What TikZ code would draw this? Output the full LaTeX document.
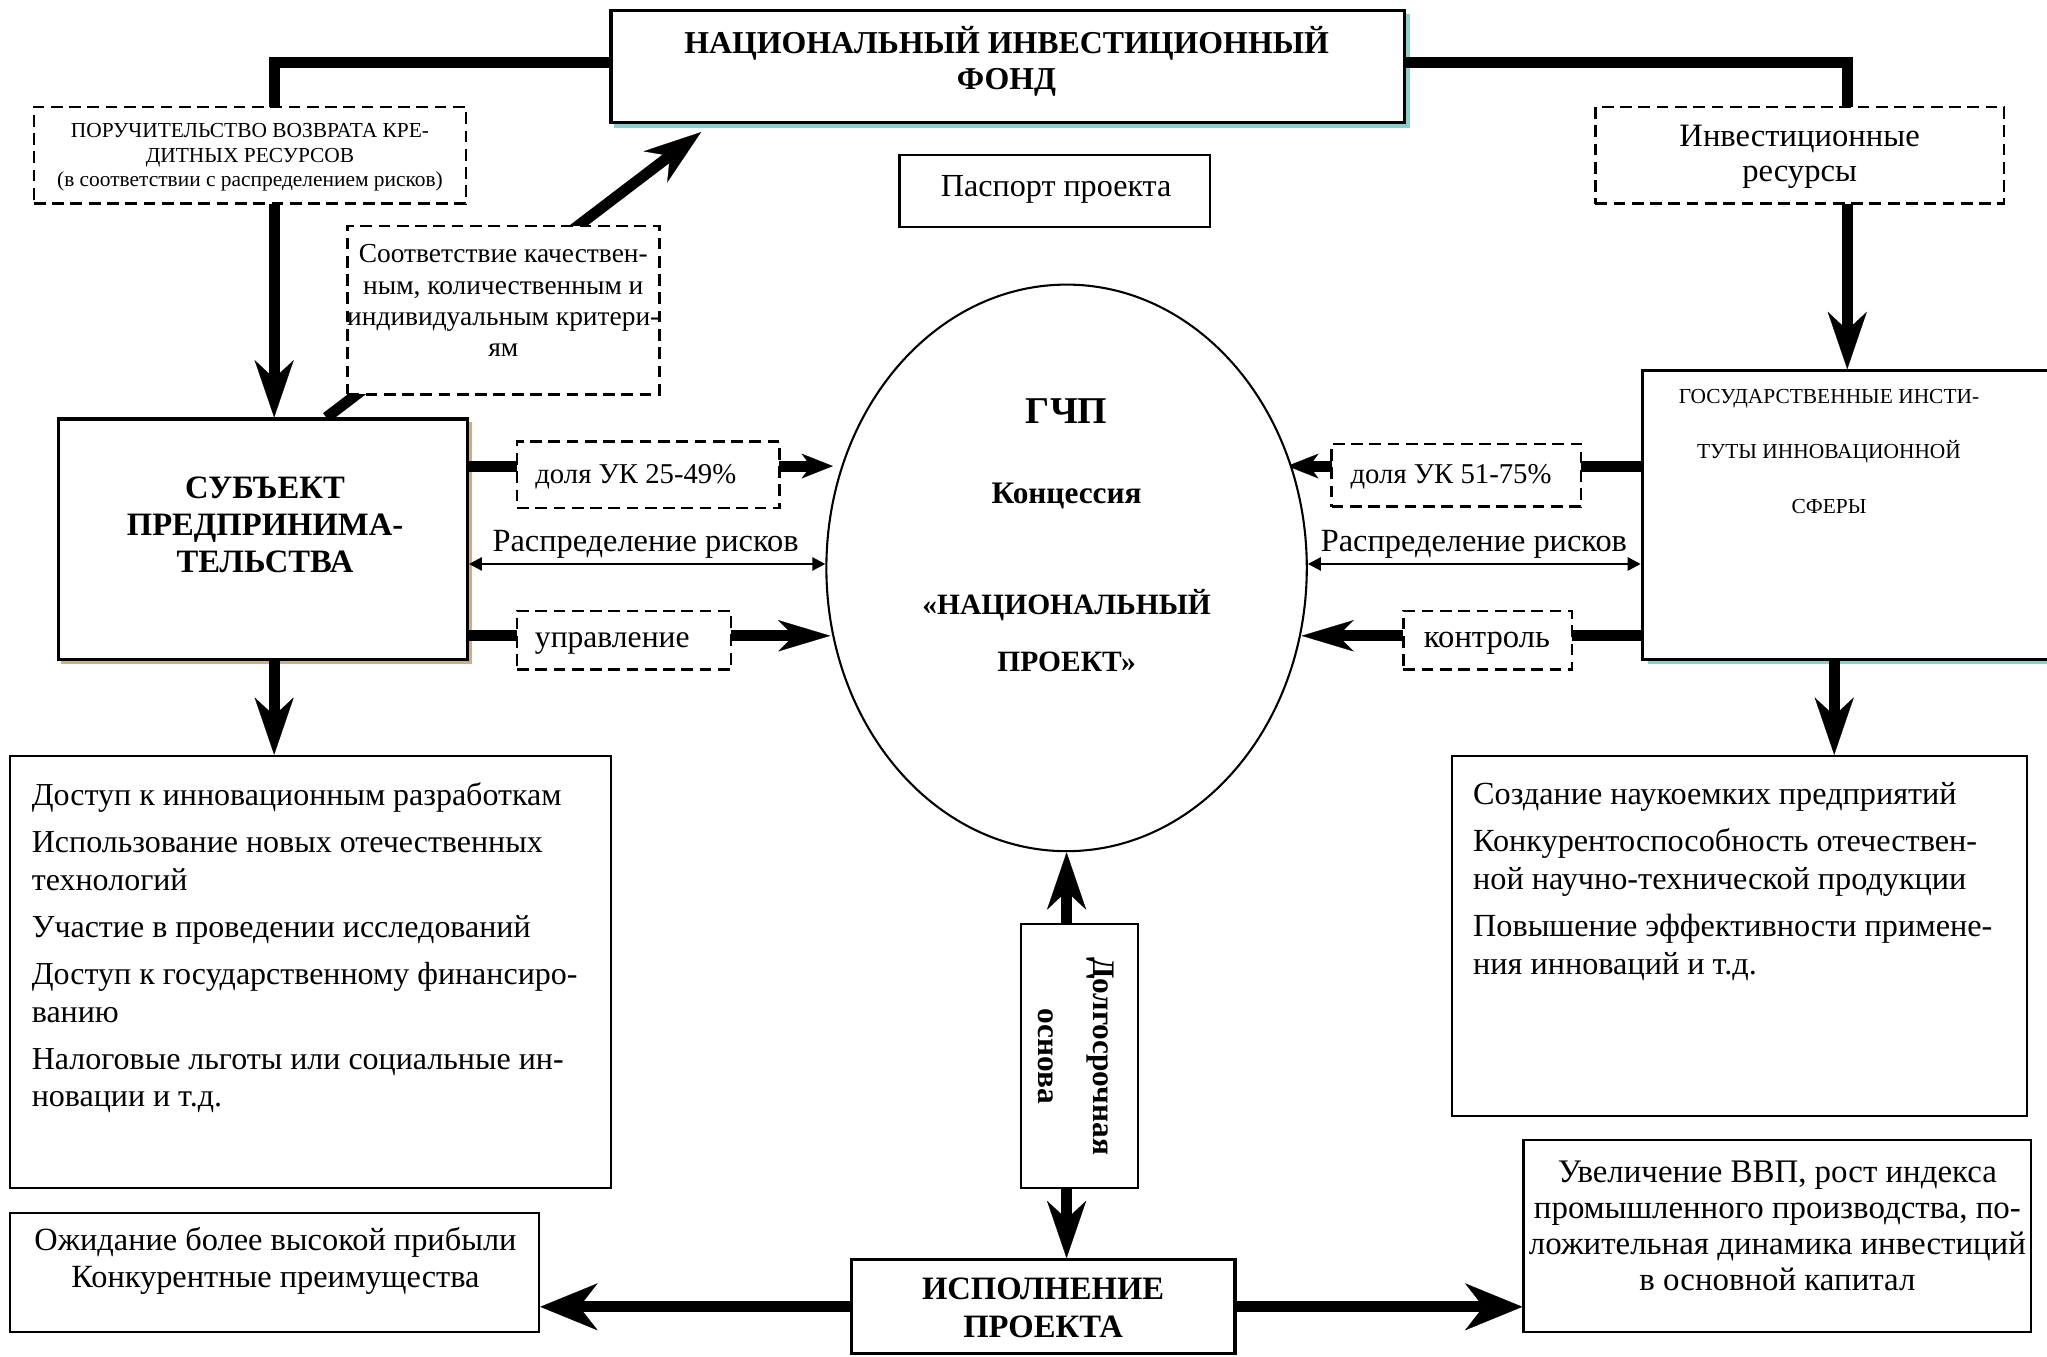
\documentclass[tikz,border=0pt]{standalone}
\usepackage{fontspec}
\setmainfont{Liberation Serif}
\usetikzlibrary{arrows.meta,shapes.geometric,backgrounds}
\definecolor{shcyan}{RGB}{140,205,205}
\definecolor{shtan}{RGB}{205,175,135}
\tikzset{
  sbox/.style={draw, line width=1.2pt, fill=white, inner sep=0pt, rectangle},
  tbox/.style={draw, line width=0.8pt, fill=white, inner sep=0pt, rectangle},
  dbox/.style={draw, line width=1pt, dash pattern=on 4.5pt off 2.5pt, fill=white, inner sep=0pt, rectangle},
  txt/.style={inner sep=0pt, font=\fontsize{12.5}{14.5}\selectfont, align=center},
  fat/.style={line width=4.2pt, line join=miter},
  TipBig/.tip={Stealth[length=22pt,width=15pt,inset=7pt,line width=0.1pt]},
  TipBigH/.tip={Stealth[length=22pt,width=18pt,inset=7pt,line width=0.1pt]},
  TipMid/.tip={Stealth[length=20pt,width=12pt,inset=6pt,line width=0.1pt]},
  TipSmall/.tip={Stealth[length=12pt,width=9.5pt,inset=3.5pt,line width=0.1pt]},
  thinarr/.style={line width=1pt, {Triangle[length=5pt,width=5pt]}-{Triangle[length=5pt,width=5pt]}},
}
\begin{document}
\begin{tikzpicture}[x=0.5pt,y=-0.5pt]
\useasboundingbox (0,0) rectangle (1568,1038.7);

% ---- boxes and texts
\node[sbox, minimum width=304pt, minimum height=43pt] (fund) at (772,51) {};
\node[txt, font=\bfseries\fontsize{12.2}{14}\selectfont] (fundT) at (771,47) {НАЦИОНАЛЬНЫЙ ИНВЕСТИЦИОННЫЙ\\ФОНД};

\node[dbox, minimum width=165.5pt, minimum height=37pt] (poruch) at (191.5,119) {};
\node[txt, font=\fontsize{8.2}{9.3}\selectfont] (poruchT) at (191.5,120.5) {ПОРУЧИТЕЛЬСТВО ВОЗВРАТА КРЕ-\\ДИТНЫХ РЕСУРСОВ\\(в соответствии с распределением рисков)};

\node[dbox, minimum width=119.5pt, minimum height=64.5pt] (sootv) at (385.5,237.5) {};
\node[txt, font=\fontsize{10.5}{12}\selectfont] (sootvT) at (385.5,230.5) {Соответствие качествен-\\ным, количественным и\\индивидуальным критери-\\ям};

\node[dbox, minimum width=156.5pt, minimum height=37pt] (invest) at (1378.5,119) {};
\node[txt, font=\fontsize{12.5}{13.5}\selectfont] (investT) at (1378.5,120) {Инвестиционные\\ресурсы};

\node[tbox, minimum width=119pt, minimum height=27.5pt] (pasp) at (808,146.5) {};
\node[txt, font=\fontsize{12.3}{14}\selectfont] (paspT) at (809,145) {Паспорт проекта};

\node[sbox, minimum width=156.5pt, minimum height=92pt] (subj) at (201.5,413) {};
\node[txt, font=\bfseries\fontsize{12.5}{14.3}\selectfont] (subjT) at (203,402) {СУБЪЕКТ\\ПРЕДПРИНИМА-\\ТЕЛЬСТВА};

\node[sbox, minimum width=158pt, minimum height=110.5pt] (gov) at (1416,394.5) {};
\node[txt, font=\fontsize{8.2}{21}\selectfont] (govT) at (1401,346) {ГОСУДАРСТВЕННЫЕ ИНСТИ-\\ТУТЫ ИННОВАЦИОННОЙ\\СФЕРЫ};

\node[draw, ellipse, line width=0.8pt, fill=white, minimum width=184pt, minimum height=217pt, inner sep=0pt] (ppp) at (817,435) {};
\node[txt, font=\bfseries\fontsize{14.5}{16}\selectfont] (gchp) at (817,315) {ГЧП};
\node[txt, font=\bfseries\fontsize{12}{14}\selectfont] (konc) at (817,380) {Концессия};
\node[txt, font=\bfseries\fontsize{11.3}{21.5}\selectfont] (natpr) at (817,483) {«НАЦИОНАЛЬНЫЙ\\ПРОЕКТ»};

\node[dbox, minimum width=100.5pt, minimum height=25.5pt] (dola1) at (496.5,363.5) {};
\node[txt, font=\fontsize{11}{13}\selectfont] (dola1T) at (487,365) {доля УК 25-49\%};
\node[dbox, minimum width=82pt, minimum height=22.5pt] (upr) at (478,490.5) {};
\node[txt, font=\fontsize{12.1}{14}\selectfont] (uprT) at (469,493) {управление};
\node[dbox, minimum width=95.5pt, minimum height=24pt] (dola2) at (1115.5,364) {};
\node[txt, font=\fontsize{11}{13}\selectfont] (dola2T) at (1111.5,365) {доля УК 51-75\%};
\node[dbox, minimum width=64.5pt, minimum height=22.5pt] (kontr) at (1139.5,490.5) {};
\node[txt] (kontrT) at (1139,493) {контроль};

\node[txt, font=\fontsize{12.4}{14}\selectfont] (ras1) at (494.5,417) {Распределение рисков};
\node[txt, font=\fontsize{12.4}{14}\selectfont] (ras2) at (1129,417) {Распределение рисков};

\node[tbox, minimum width=230pt, minimum height=165.5pt] (lbox) at (238,744.5) {};
\node[txt, font=\fontsize{12.25}{14.5}\selectfont, align=left, anchor=north west] (lboxT) at (24,599) {Доступ к инновационным разработкам\\[3.5pt]
Использование новых отечественных\\
технологий\\[3.5pt]
Участие в проведении исследований\\[3.5pt]
Доступ к государственному финансиро-\\
ванию\\[3.5pt]
Налоговые льготы или социальные ин-\\
новации и т.д.};

\node[tbox, minimum width=220.5pt, minimum height=138pt] (rbox) at (1332.5,717) {};
\node[txt, font=\fontsize{12.35}{14.5}\selectfont, align=left, anchor=north west] (rboxT) at (1128,599) {Создание наукоемких предприятий\\[3.5pt]
Конкурентоспособность отечествен-\\
ной научно-технической продукции\\[3.5pt]
Повышение эффективности примене-\\
ния инноваций и т.д.};

\node[tbox, minimum width=45pt, minimum height=101pt] (dolg) at (827,809) {};
\node[txt, rotate=-90, font=\bfseries\fontsize{12}{21}\selectfont] (dolgT) at (824,809) {Долгосрочная\\основа};

\node[sbox, minimum width=147pt, minimum height=36pt] (isp) at (799,1001) {};
\node[txt, font=\bfseries\fontsize{12.5}{14.5}\selectfont] (ispT) at (799,1002) {ИСПОЛНЕНИЕ\\ПРОЕКТА};

\node[tbox, minimum width=202.5pt, minimum height=45.5pt] (ozh) at (210.5,974.5) {};
\node[txt, font=\fontsize{12.4}{14}\selectfont] (ozhT) at (211,966) {Ожидание более высокой прибыли\\Конкурентные преимущества};

\node[tbox, minimum width=194.5pt, minimum height=73.5pt] (uvel) at (1361.5,946.5) {};
\node[txt, font=\fontsize{12.6}{13.85}\selectfont] (uvelT) at (1361.5,939) {Увеличение ВВП, рост индекса\\промышленного производства, по-\\ложительная динамика инвестиций\\в основной капитал};

% ---- connectors
\begin{scope}[on background layer]
\fill[white] (0,0) rectangle (1568,1038.7);
\draw[shcyan, line width=1.2pt] (470,96.5) -- (1078.5,96.5) -- (1078.5,11);
\draw[shtan, line width=1.2pt] (47,507.5) -- (360.5,507.5) -- (360.5,323);
\draw[shcyan, line width=1.2pt] (1262,507.5) -- (1570,507.5);
\draw[fat,-{TipBig}] ([yshift=1.5pt]fund.west) -| ([xshift=4.25pt]subj.north);
\draw[fat,-{TipBig}] ([xshift=24.25pt]subj.north) -- ([xshift=-117.5pt,yshift=-3pt]fund.south);
\draw[fat,-{TipBig}] ([yshift=1.5pt]fund.east) -| ([xshift=-0.5pt]gov.north);
\draw[fat,-{TipSmall}] ([yshift=28pt]subj.east) -- ([xshift=-89.5pt,yshift=39pt]ppp.center);
\draw[thinarr] ([yshift=-9.5pt]subj.east) -- ([yshift=1.5pt]ppp.west);
\draw[fat,-{TipMid}] ([yshift=-37pt]subj.east) -- ([xshift=-90.5pt,yshift=-26pt]ppp.center);
\draw[fat,-{TipSmall}] ([yshift=18.75pt]gov.west) -- ([xshift=84.5pt,yshift=39pt]ppp.center);
\draw[thinarr] ([yshift=1.5pt]ppp.east) -- ([yshift=-18.75pt]gov.west);
\draw[fat,-{TipMid}] ([yshift=-46.25pt]gov.west) -- ([xshift=90pt,yshift=-26pt]ppp.center);
\draw[fat,-{TipBig}] ([xshift=4.25pt]subj.south) -- ([xshift=4.25pt]subj.south |- lbox.north);
\draw[fat,-{TipBig}] ([xshift=-5.5pt]gov.south) -- ([xshift=-5.5pt]gov.south |- rbox.north);
\draw[fat,-{TipBig}] (ppp.south |- dolg.north) -- (ppp.south);
\draw[fat,-{TipBig}] (ppp.south |- dolg.south) -- (ppp.south |- isp.north);
\draw[fat,-{TipBigH}] (isp.west) -- (isp.west -| ozh.east);
\draw[fat,-{TipBigH}] (isp.east) -- (isp.east -| uvel.west);
\end{scope}
\end{tikzpicture}
\end{document}
